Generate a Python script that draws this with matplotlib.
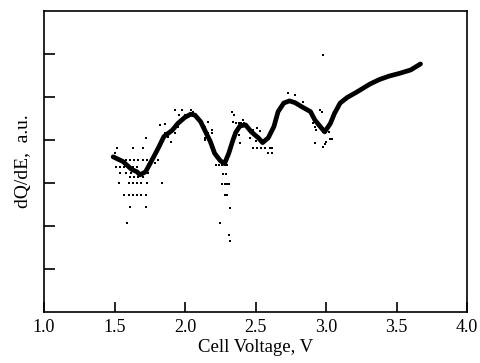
import matplotlib
matplotlib.use("Agg")
import matplotlib.pyplot as plt

# main smoothed dQ/dE curve (cell voltage, arbitrary units)
volt = [1.49, 1.56, 1.62, 1.66, 1.68, 1.72, 1.76, 1.81, 1.85, 1.91, 1.95, 2.00,
        2.04, 2.07, 2.11, 2.14, 2.18, 2.21, 2.25, 2.28, 2.31, 2.34, 2.36, 2.39,
        2.43, 2.47, 2.52, 2.55, 2.59, 2.63, 2.66, 2.70, 2.74, 2.78, 2.83, 2.89,
        2.92, 2.96, 2.99, 3.03, 3.06, 3.10, 3.15, 3.22, 3.31, 3.38, 3.45, 3.52,
        3.60, 3.67]
dqde = [3.61, 3.50, 3.32, 3.26, 3.19, 3.26, 3.50, 3.81, 4.08, 4.23, 4.39, 4.53,
        4.60, 4.58, 4.43, 4.23, 3.96, 3.69, 3.52, 3.45, 3.69, 4.00, 4.18, 4.33,
        4.35, 4.19, 4.05, 3.94, 4.05, 4.31, 4.66, 4.86, 4.91, 4.87, 4.77, 4.66,
        4.47, 4.31, 4.19, 4.38, 4.62, 4.86, 4.99, 5.12, 5.30, 5.41, 5.49, 5.55,
        5.63, 5.77]

# raw (noisy) data points
raw_v = [1.52, 1.50, 1.63, 1.70, 1.72,
         1.52, 1.55, 1.58, 1.61, 1.64, 1.67, 1.70, 1.73, 1.77,
         1.51, 1.54, 1.57, 1.60, 1.63, 1.66,
         1.54, 1.58, 1.62, 1.66, 1.70, 1.74,
         1.61, 1.64, 1.67, 1.70,
         1.53, 1.60, 1.63, 1.66, 1.69, 1.73, 1.84,
         1.57, 1.60, 1.63, 1.66, 1.69, 1.72,
         1.61, 1.72, 1.59,
         1.79, 1.81, 1.88, 1.90, 1.86, 1.82, 1.86, 1.91, 1.95, 1.93,
         1.93, 1.98, 2.04, 2.06, 2.00, 1.96, 2.09, 2.14, 2.16, 2.19, 2.14, 2.19,
         2.33, 2.35, 2.34, 2.36, 2.38, 2.40, 2.42, 2.41, 2.16, 2.19, 2.14, 2.38, 2.39,
         2.22, 2.24, 2.26, 2.28, 2.30, 2.27,
         2.27, 2.29,
         2.26, 2.28, 2.30, 2.31,
         2.28, 2.30,
         2.32, 2.25, 2.31, 2.32,
         2.48, 2.51, 2.54, 2.57, 2.60, 2.62, 2.59, 2.62,
         2.48, 2.51, 2.53, 2.46, 2.50,
         2.73, 2.78, 2.84, 2.96, 2.97, 2.91, 2.92, 2.93, 2.92,
         2.98, 3.00, 3.02, 3.00, 2.99, 2.98, 3.03, 3.04, 2.98]
raw_q = [3.81, 3.69, 3.81, 3.81, 4.04,
         3.53, 3.53, 3.53, 3.53, 3.53, 3.53, 3.53, 3.53, 3.53,
         3.38, 3.38, 3.38, 3.38, 3.38, 3.38,
         3.24, 3.24, 3.24, 3.24, 3.24, 3.24,
         3.14, 3.14, 3.14, 3.14,
         3.00, 3.00, 3.00, 3.00, 3.00, 3.00, 3.00,
         2.72, 2.72, 2.72, 2.72, 2.72, 2.72,
         2.44, 2.44, 2.08,
         3.46, 3.53, 4.07, 3.96, 4.16, 4.35, 4.38, 4.19, 4.31, 4.16,
         4.70, 4.70, 4.71, 4.66, 4.58, 4.58, 4.50, 4.31, 4.16, 4.23, 4.00, 3.92,
         4.66, 4.58, 4.42, 4.39, 4.39, 4.39, 4.39, 4.47, 4.42, 4.16, 4.04, 4.12, 3.92,
         3.42, 3.42, 3.42, 3.42, 3.42, 3.50,
         3.22, 3.22,
         2.97, 2.97, 2.97, 2.97,
         2.72, 2.72,
         2.43, 2.07, 1.79, 1.64,
         3.81, 3.81, 3.81, 3.81, 3.81, 3.81, 3.69, 3.69,
         4.23, 4.28, 4.20, 4.04, 3.98,
         5.09, 5.05, 4.88, 4.70, 4.65, 4.39, 4.30, 4.23, 3.93,
         4.19, 4.19, 4.19, 3.96, 3.90, 3.84, 4.02, 4.02, 5.98]

plt.rcParams['font.family'] = ['Liberation Serif', 'DejaVu Serif']

fig = plt.figure(figsize=(4.81, 3.63), dpi=100)
ax = fig.add_axes([0.0915, 0.1405, 0.8795, 0.829])

ax.scatter(raw_v, raw_q, s=1.8, marker='s', color='black', linewidths=0)
ax.plot(volt, dqde, color='black', linewidth=3.4, solid_capstyle='round',
        solid_joinstyle='round')

ax.set_xlim(1.0, 4.0)
ax.set_ylim(0, 7)
ax.set_xticks([1.0, 1.5, 2.0, 2.5, 3.0, 3.5, 4.0])
ax.set_xticklabels(['1.0', '1.5', '2.0', '2.5', '3.0', '3.5', '4.0'])
ax.set_yticks([1, 2, 3, 4, 5, 6])
ax.set_yticklabels([])
ax.tick_params(axis='x', direction='in', length=7, width=1.2, labelsize=13, pad=5)
ax.tick_params(axis='y', direction='in', length=8, width=1.2)
for s in ax.spines.values():
    s.set_linewidth(1.2)

ax.set_xlabel('Cell Voltage, V', fontsize=13.5, labelpad=2)
ax.set_ylabel('dQ/dE,  a.u.', fontsize=14, labelpad=5)

fig.savefig('out.png', dpi=100)
